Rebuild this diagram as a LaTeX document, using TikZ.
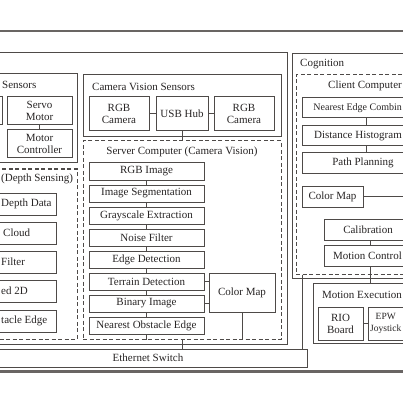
\documentclass[tikz,border=0pt]{standalone}
\usepackage{fontspec}
\setmainfont{Liberation Serif}
\usetikzlibrary{calc}
\definecolor{lc}{RGB}{78,74,72}
\definecolor{tc}{RGB}{40,37,37}
\begin{document}
\begin{tikzpicture}[x=1pt,y=-1pt,
  every node/.style={font=\fontsize{11}{12}\selectfont, text=tc},
  bx/.style={draw=lc, line width=1pt, inner sep=0pt, align=center},
  dbx/.style={bx, dash pattern=on 4pt off 2.5pt},
  sbx/.style={bx, minimum width=115pt, minimum height=17pt},
  dpx/.style={bx, minimum width=116pt, minimum height=22pt},
  cbx/.style={bx, minimum width=128pt, minimum height=20pt},
  txt/.style={inner sep=0pt},
  ln/.style={draw=lc, line width=1pt},
  rule/.style={draw=lc!85, line width=1.5pt}]
\fill[white] (0,0) rectangle (403,403);
\useasboundingbox (0,0) rectangle (403,403);
\clip (0,0) rectangle (403,403);

% rules
\coordinate (topl) at (-10,31);
\coordinate (topr) at (413,31);
\coordinate (botl) at (-10,371.5);
\coordinate (botr) at (413,371.5);
\draw[rule] (topl) -- (topr);
\draw[rule, line width=2.5pt] (botl) -- (botr);

% perception frame
\node[bx, minimum width=307pt, minimum height=291pt] (percep) at (133.5,198.5) {};

% sensors
\node[bx, minimum width=97pt, minimum height=89pt] (sensors) at (28.5,118.5) {};
\node[txt, anchor=west] (sensorst) at (2,85) {Sensors};
\node[bx, minimum width=42pt, minimum height=28pt] (leftbox) at (-19,111) {};
\node[bx, minimum width=65pt, minimum height=28pt] (servo) at (39.5,111) {Servo\\Motor};
\node[bx, minimum width=65pt, minimum height=28pt] (motorctl) at (39.5,144) {Motor\\Controller};
\draw[ln] (servo) -- (motorctl);

% depth sensing
\node[dbx, minimum width=97pt, minimum height=170pt] (depth) at (28.5,254) {};
\node[txt, anchor=west] (deptht) at (1,179) {(Depth Sensing)};
\node[dpx] (d1) at (-2,204) {};
\node[dpx] (d2) at (-2,233) {};
\node[dpx] (d3) at (-2,262) {};
\node[dpx] (d4) at (-2,291) {};
\node[dpx] (d5) at (-2,321) {};
\node[txt, anchor=west] (d1t) at (1,204) {Depth Data};
\node[txt, anchor=west] (d2t) at (3,233) {Cloud};
\node[txt, anchor=west] (d3t) at (1,262) {Filter};
\node[txt, anchor=west] (d4t) at (1,291) {ed 2D};
\node[txt, anchor=west] (d5t) at (1,321) {tacle Edge};

% camera vision sensors
\node[bx, minimum width=198pt, minimum height=62pt] (camvis) at (182,106) {};
\node[txt, anchor=west] (camvist) at (92,87) {Camera Vision Sensors};
\node[bx, minimum width=60pt, minimum height=34pt] (rgbcama) at (119,114) {RGB\\Camera};
\node[bx, minimum width=52pt, minimum height=34pt] (usb) at (182,114) {USB Hub};
\node[bx, minimum width=60pt, minimum height=34pt] (rgbcamb) at (244,114) {RGB\\Camera};
\draw[ln] (rgbcama) -- (usb);
\draw[ln] (usb) -- (rgbcamb);

% server computer
\node[dbx, minimum width=198pt, minimum height=198pt] (server) at (182,240) {};
\node[txt] (servert) at (182,152) {Server Computer (Camera Vision)};
\draw[ln] (usb.south) -- (usb.south |- server.north);
\node[sbx] (s1) at (146.5,171.5) {RGB Image};
\node[sbx] (s2) at (146.5,193.5) {Image Segmentation};
\node[sbx] (s3) at (146.5,215.5) {Grayscale Extraction};
\node[sbx] (s4) at (146.5,237.5) {Noise Filter};
\node[sbx] (s5) at (146.5,259.5) {Edge Detection};
\node[sbx] (s6) at (146.5,281.5) {Terrain Detection};
\node[sbx] (s7) at (146.5,303.5) {Binary Image};
\node[sbx] (s8) at (146.5,325.5) {Nearest Obstacle Edge};
\foreach \a/\b in {s1/s2,s2/s3,s3/s4,s4/s5,s5/s6,s6/s7,s7/s8}
  \draw[ln] (\a.south) -- (\b.north);
\node[bx, minimum width=66pt, minimum height=39pt] (cmapa) at (242,292.5) {Color Map};
\draw[ln] (s6.east) -- (s6.east -| cmapa.west);
\draw[ln] (s7.east) -- (s7.east -| cmapa.west);
\draw[ln] (cmapa.south) -- (cmapa.south |- server.south);
\draw[ln] (s8.south) -- (s8.south |- server.south);

% ethernet
\node[bx, minimum width=318pt, minimum height=18pt] (eth) at (148,358) {Ethernet Switch};
\draw[ln] (server.south) -- (server.south |- eth.north);

% cognition
\node[bx, minimum width=138pt, minimum height=224pt] (cog) at (361,166) {};
\node[txt, anchor=west] (cogt) at (300,64) {Cognition};
\node[dbx, minimum width=129pt, minimum height=199pt] (client) at (360.5,174.5) {};
\node[txt, anchor=east] (clientt) at (402,86) {Client Computer};
\node[cbx] (c1) at (366,108) {};
\node[txt, anchor=east, font=\fontsize{10}{12}\selectfont] (c1t) at (402,108) {Nearest Edge Combin};
\node[cbx] (c2) at (366,136) {};
\node[txt, anchor=east] (c2t) at (402,136) {Distance Histogram};
\node[cbx] (c3) at (366,163) {};
\node[txt] (c3t) at (363,163) {Path Planning};
\draw[ln] (c1.south) -- (c2.north);
\draw[ln] (c2.south) -- (c3.north);
\node[bx, minimum width=61pt, minimum height=21pt] (cmapb) at (332.5,196.5) {Color Map};
\coordinate (cmapend) at (410,196.5);
\draw[ln] (cmapb.east) -- (cmapend);
\node[bx, minimum width=92pt, minimum height=21pt] (calib) at (370,229.5) {};
\node[txt] (calibt) at (368,229.5) {Calibration};
\node[bx, minimum width=92pt, minimum height=21pt] (mctl) at (370,255.5) {};
\node[txt, anchor=east] (mctlt) at (402,255.5) {Motion Control};
\draw[ln] (calib.south) -- (mctl.north);
\coordinate (cl) at ($(client.south west)+(7,0)$);
\draw[ln] (cl) -- (cl |- eth.north);

% motion execution
\node[bx, minimum width=117pt, minimum height=60pt] (mexec) at (371.5,313) {};
\node[txt, anchor=east] (mexect) at (402,295) {Motion Execution};
\node[bx, minimum width=45pt, minimum height=33pt] (rio) at (340.5,323.5) {RIO\\Board};
\node[bx, minimum width=54pt, minimum height=33pt] (epw) at (395,323.5) {};
\node[txt, anchor=east, align=center, font=\fontsize{9.5}{11.5}\selectfont] (epwt) at (401.5,323.5) {EPW\\Joystick};
\draw[ln] (rio) -- (epw);
\draw[ln] (mctl.south) -- (mctl.south |- mexec.north);
\end{tikzpicture}
\end{document}
